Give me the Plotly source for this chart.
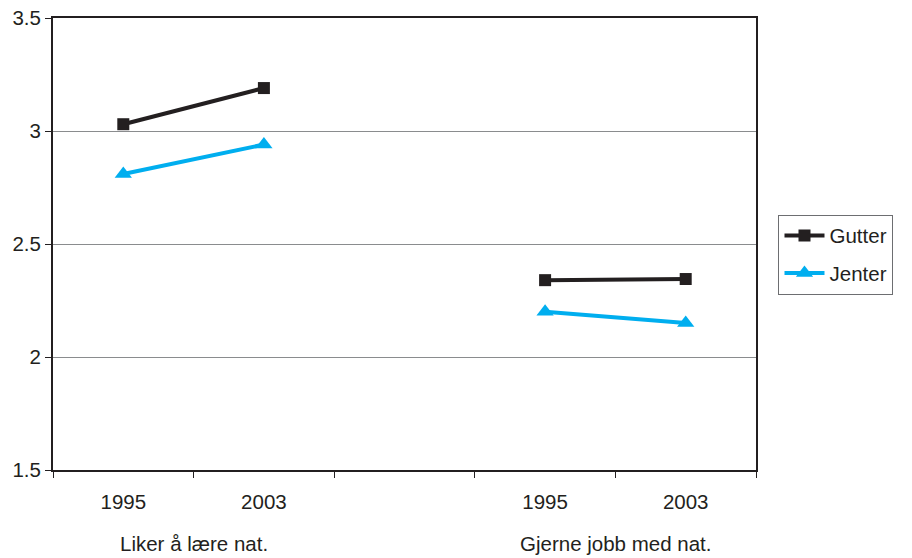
import plotly.graph_objects as go

# Category slots: two groups of years with an empty slot between them
years = ["1995", "2003", "", "1995", "2003"]
groups = ["Liker å lære nat.", "Gjerne jobb med nat."]
gutter = [3.03, 3.19, None, 2.34, 2.345]
jenter = [2.81, 2.94, None, 2.20, 2.15]

x = list(range(len(years)))
font = "Liberation Sans, Arial, sans-serif"
fs = 20.5

fig = go.Figure()
fig.add_trace(go.Scatter(
    x=x, y=gutter, name="Gutter", mode="lines+markers", legendgroup="g",
    line=dict(color="#231f20", width=4),
    marker=dict(symbol="square", size=12, color="#231f20"),
    connectgaps=False,
))
fig.add_trace(go.Scatter(
    x=x, y=jenter, name="Jenter", mode="lines+markers", legendgroup="j",
    line=dict(color="#00aeef", width=4),
    marker=dict(symbol="triangle-up", size=15, color="#00aeef"),
    connectgaps=False,
))

tickvals = [i for i, t in enumerate(years) if t]
ticktext = [t for t in years if t]

fig.update_layout(
    width=912, height=558,
    margin=dict(l=53, r=156, t=18, b=88),
    paper_bgcolor="white", plot_bgcolor="white",
    font=dict(family=font, size=fs, color="#231f20"),
    showlegend=True,
    legend=dict(
        x=1.032, y=0.565, xanchor="left", yanchor="top",
        bordercolor="#6d6e71", borderwidth=1,
        font=dict(size=fs), itemwidth=40, tracegroupgap=8,
    ),
    xaxis=dict(
        range=[-0.5, len(years) - 0.5], automargin=False,
        tickvals=tickvals, ticktext=ticktext,
        ticks="", showgrid=False, zeroline=False,
        showline=True, linecolor="#231f20", linewidth=2, mirror=True,
        tickfont=dict(size=fs), ticklabelstandoff=12,
        minor=dict(ticks="outside", tick0=-0.5, dtick=1, ticklen=6,
                   tickcolor="#231f20", tickwidth=1, showgrid=False),
    ),
    yaxis=dict(
        range=[1.5, 3.5], automargin=False,
        tickvals=[1.5, 2, 2.5, 3, 3.5],
        ticktext=["1.5", "2", "2.5", "3", "3.5"],
        ticks="outside", ticklen=6, tickcolor="#231f20",
        showgrid=True, gridcolor="#8a8c8e", gridwidth=1,
        zeroline=False,
        showline=True, linecolor="#231f20", linewidth=2, mirror=True,
        tickfont=dict(size=fs),
    ),
)

# Group labels beneath each pair of years
for i, g in enumerate(groups):
    fig.add_annotation(
        x=[0.5, 3.5][i], y=0, xref="x", yref="paper",
        yshift=-73, yanchor="middle", text=g, showarrow=False,
        font=dict(size=fs, family=font, color="#231f20"),
    )

fig.write_html("out.html")
